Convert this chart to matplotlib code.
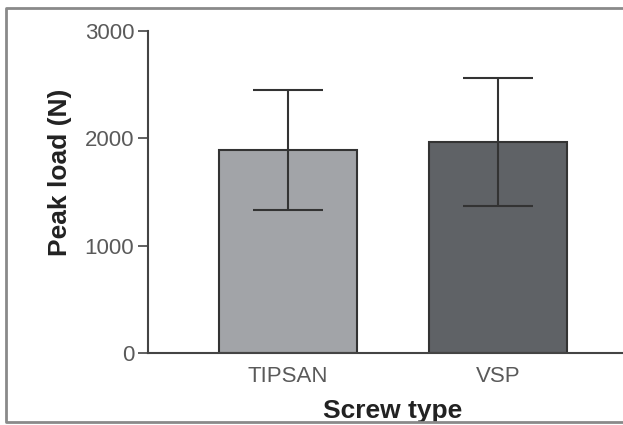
import matplotlib.pyplot as plt
from matplotlib.lines import Line2D

screw_types = ["TIPSAN", "VSP"]
peak_load = [1890, 1965]
peak_load_sd = [559, 596]
bar_colors = ["#a2a4a8", "#5f6266"]

W, H = 623, 425
fig = plt.figure(figsize=(W / 100, H / 100), dpi=100)
plt.rcParams['font.family'] = ['Liberation Sans', 'DejaVu Sans']

# scanned page frame (left, top, bottom edges only)
fx0, fy0, fy1 = 6 / W, 3 / H, (H - 8) / H
fig.add_artist(Line2D([1.0, fx0, fx0, 1.0], [fy1, fy1, fy0, fy0], transform=fig.transFigure,
                      color="#8a8a8a", linewidth=2.0))

ax = fig.add_axes([148 / W, (H - 353) / H, 475 / W, 322 / H])
x = [0, 1]
ax.bar(x, peak_load, width=0.66, color=bar_colors, edgecolor="#333333", linewidth=1.5, zorder=2)
ax.errorbar(x, peak_load, yerr=peak_load_sd, fmt="none", ecolor="#333333",
            elinewidth=1.5, capsize=25, capthick=1.5, zorder=3)

ax.set_xlim(-0.667, 1.595)
ax.set_ylim(0, 3000)
ax.set_yticks([0, 1000, 2000, 3000])
ax.set_xticks(x)
ax.set_xticklabels(screw_types)

for s in ["top", "right"]:
    ax.spines[s].set_visible(False)
for s in ["left", "bottom"]:
    ax.spines[s].set_color("#444444")
    ax.spines[s].set_linewidth(1.5)

ax.tick_params(axis="y", length=7, width=1.2, color="#444444", pad=3,
               labelsize=16, labelcolor="#5a5a5a")
ax.tick_params(axis="x", length=0, pad=9, labelsize=16, labelcolor="#5a5a5a")

ax.set_xlabel("Screw type", fontsize=19, fontweight="bold", color="#222222")
ax.set_ylabel("Peak load (N)", fontsize=19, fontweight="bold", color="#222222")
ax.xaxis.set_label_coords(0.514, -0.143)
ax.yaxis.set_label_coords(-0.16, 0.56)

fig.savefig("out.png", dpi=100)
